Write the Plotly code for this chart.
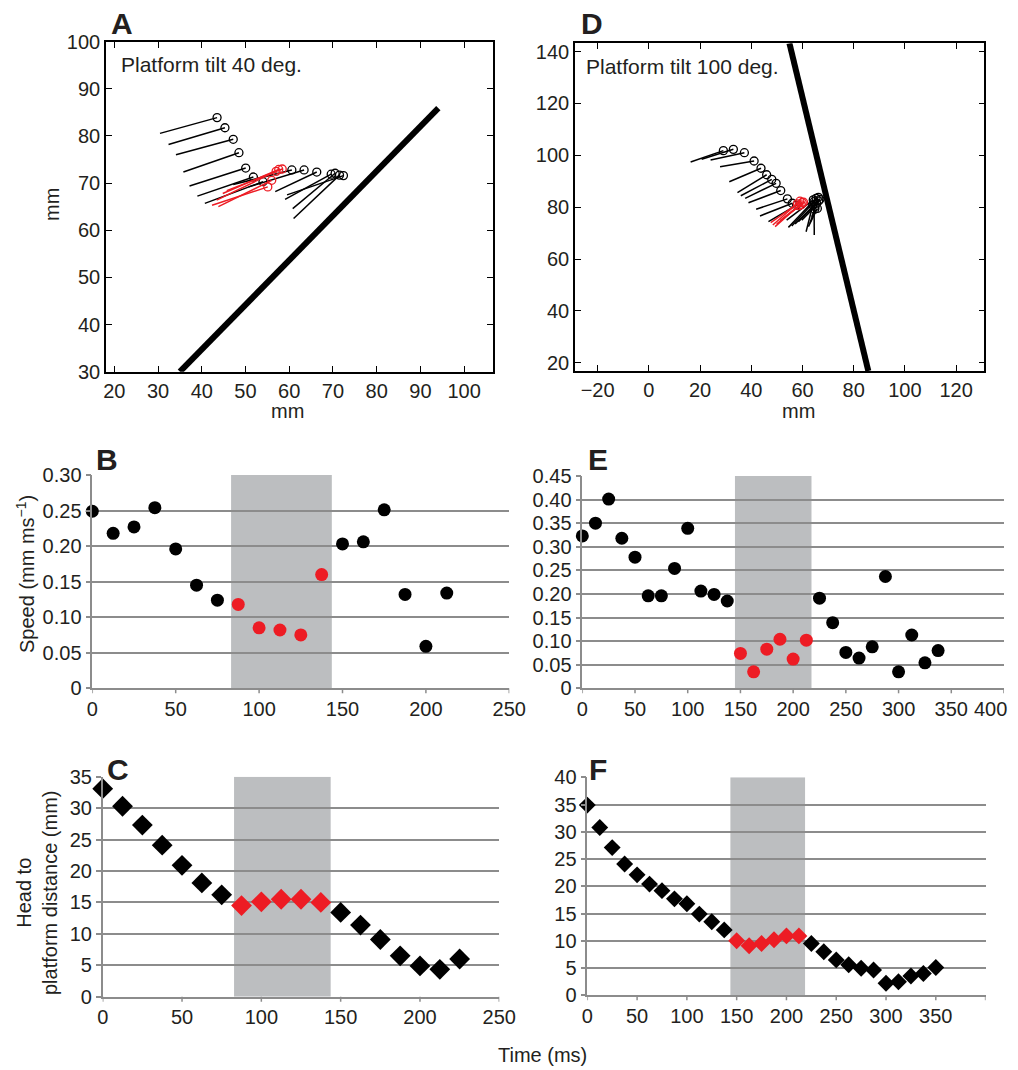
import plotly.graph_objects as go

W, H = 1018, 1070
FONT = "Liberation Sans, Arial, Helvetica, sans-serif"
BLACK = "#000000"
TXT = "#231f20"
RED = "#ed1c24"
SHADE = "#bcbec0"
GRID = "#8c8c8c"

# ---------------- Panel A (tilt 40 deg) ----------------
a_pre_head_x = [43.5, 45.3, 47.2, 48.5, 50.05, 51.8, 54.0]
a_pre_head_y = [83.9, 81.75, 79.3, 76.45, 73.2, 71.3, 70.3]
a_pre_tail_x = [30.45, 32.4, 34.1, 35.8, 37.2, 39.0, 40.7]
a_pre_tail_y = [80.55, 78.2, 76.0, 72.35, 69.4, 67.25, 65.7]
a_red_head_x = [55.1, 56.0, 57.0, 57.6, 58.4]
a_red_head_y = [69.2, 70.6, 72.5, 72.9, 73.0]
a_red_tail_x = [42.35, 43.8, 43.4, 44.8, 45.7]
a_red_tail_y = [65.3, 65.0, 66.4, 67.8, 68.4]
a_post_head_x = [60.6, 63.4, 66.3, 69.6, 70.5, 71.5, 72.4]
a_post_head_y = [72.8, 72.8, 72.35, 71.9, 72.1, 71.7, 71.6]
a_post_tail_x = [47.2, 50.7, 56.8, 59.05, 60.8, 61.0, 59.5]
a_post_tail_y = [69.7, 69.2, 68.2, 66.55, 64.6, 62.5, 67.5]
a_platform_x = [35.0, 94.1]
a_platform_y = [30.0, 85.9]

# ---------------- Panel D (tilt 100 deg) ----------------
d_pre_head_x = [29.1, 33.0, 37.3, 41.1, 43.8, 46.0, 48.0, 49.7, 51.5, 54.1, 56.0, 57.7]
d_pre_head_y = [101.8, 102.3, 101.0, 97.8, 95.0, 92.5, 90.7, 89.2, 86.4, 83.2, 81.5, 80.8]
d_pre_tail_x = [16.3, 20.6, 24.1, 27.8, 31.4, 34.6, 35.9, 37.6, 38.9, 41.9, 43.4, 46.7]
d_pre_tail_y = [97.4, 98.5, 98.2, 95.6, 89.8, 85.6, 84.4, 83.4, 81.7, 79.2, 76.6, 74.4]
d_red_head_x = [58.0, 59.0, 59.9, 58.6, 59.5, 60.4]
d_red_head_y = [81.3, 82.3, 81.8, 80.6, 80.9, 81.9]
d_red_tail_x = [47.6, 48.4, 49.3, 49.9, 51.2, 52.5]
d_red_tail_y = [74.0, 73.1, 72.5, 73.5, 74.8, 75.7]
d_post_head_x = [64.2, 65.3, 66.2, 66.8, 65.5, 64.9, 64.0, 65.8, 64.8, 64.5, 66.3]
d_post_head_y = [82.8, 83.4, 83.8, 83.0, 81.5, 80.2, 80.8, 79.5, 79.2, 82.1, 82.4]
d_post_tail_x = [53.8, 54.5, 55.8, 57.1, 58.4, 59.7, 61.4, 62.3, 62.9, 64.6, 63.6]
d_post_tail_y = [75.0, 72.2, 72.7, 73.5, 74.4, 75.0, 70.5, 72.5, 73.8, 69.3, 76.3]
d_platform_x = [54.9, 85.7]
d_platform_y = [143.2, 16.8]

# ---------------- Panel B (speed, tilt 40) ----------------
b_time_black1 = [0, 12.5, 25, 37.5, 50, 62.5, 75]
b_speed_black1 = [0.249, 0.218, 0.227, 0.254, 0.196, 0.145, 0.124]
b_time_red = [87.5, 100, 112.5, 125, 137.5]
b_speed_red = [0.118, 0.085, 0.082, 0.075, 0.160]
b_time_black2 = [150, 162.5, 175, 187.5, 200, 212.5]
b_speed_black2 = [0.203, 0.206, 0.251, 0.132, 0.059, 0.134]
b_shade = [83.2, 143.6]

# ---------------- Panel C (distance, tilt 40) ----------------
c_time_black1 = [0, 12.5, 25, 37.5, 50, 62.5, 75]
c_dist_black1 = [33.1, 30.3, 27.3, 24.1, 20.9, 18.1, 16.2]
c_time_red = [87.5, 100, 112.5, 125, 137.5]
c_dist_red = [14.5, 15.1, 15.5, 15.5, 15.0]
c_time_black2 = [150, 162.5, 175, 187.5, 200, 212.5, 225]
c_dist_black2 = [13.4, 11.4, 9.1, 6.5, 4.9, 4.35, 6.0]
c_shade = [82.8, 143.7]

# ---------------- Panel E (speed, tilt 100) ----------------
e_time_black1 = [0, 12.5, 25, 37.5, 50, 62.5, 75, 87.5, 100, 112.5, 125, 137.5]
e_speed_black1 = [0.323, 0.350, 0.401, 0.318, 0.278, 0.196, 0.196, 0.254, 0.339, 0.206, 0.199, 0.185]
e_time_red = [150, 162.5, 175, 187.5, 200, 212.5]
e_speed_red = [0.074, 0.035, 0.083, 0.104, 0.062, 0.102]
e_time_black2 = [225, 237.5, 250, 262.5, 275, 287.5, 300, 312.5, 325, 337.5]
e_speed_black2 = [0.191, 0.139, 0.076, 0.064, 0.088, 0.237, 0.035, 0.113, 0.054, 0.080]
e_shade = [144.8, 217.4]

# ---------------- Panel F (distance, tilt 100) ----------------
f_time_black1 = [0, 12.5, 25, 37.5, 50, 62.5, 75, 87.5, 100, 112.5, 125, 137.5]
f_dist_black1 = [34.9, 30.8, 27.1, 24.1, 22.1, 20.4, 19.2, 17.7, 16.8, 14.9, 13.5, 12.0]
f_time_red = [150, 162.5, 175, 187.5, 200, 212.5]
f_dist_red = [10.0, 9.1, 9.5, 10.2, 10.9, 10.9]
f_time_black2 = [225, 237.5, 250, 262.5, 275, 287.5, 300, 312.5, 325, 337.5, 350]
f_dist_black2 = [9.5, 8.0, 6.5, 5.6, 4.95, 4.65, 2.2, 2.5, 3.55, 4.0, 5.1]
f_shade = [143.7, 218.7]

# tick values / labels
a_xticks = [20, 30, 40, 50, 60, 70, 80, 90, 100]
a_yticks = [30, 40, 50, 60, 70, 80, 90, 100]
d_xticks = [-20, 0, 20, 40, 60, 80, 100, 120]
d_yticks = [20, 40, 60, 80, 100, 120, 140]
b_yticks = [0, 0.05, 0.10, 0.15, 0.20, 0.25, 0.30]
b_ytext = ["0", "0.05", "0.10", "0.15", "0.20", "0.25", "0.30"]
e_yticks = [0, 0.05, 0.10, 0.15, 0.20, 0.25, 0.30, 0.35, 0.40, 0.45]
e_ytext = ["0", "0.05", "0.10", "0.15", "0.20", "0.25", "0.30", "0.35", "0.40", "0.45"]
bc_xticks = [0, 50, 100, 150, 200, 250]
ef_xticks = [0, 50, 100, 150, 200, 250, 300, 350, 400]
ef_xlabeled = [0, 50, 100, 150, 200, 250, 300, 350]
e_last_label = "400"
c_yticks = [0, 5, 10, 15, 20, 25, 30, 35]
f_yticks = [0, 5, 10, 15, 20, 25, 30, 35, 40]


def segs(tx, ty, hx, hy):
    xs, ys = [], []
    for a, b, c, d in zip(tx, ty, hx, hy):
        xs += [a, c, None]
        ys += [b, d, None]
    return xs, ys


fig = go.Figure()


def add_sticks(xa, ya, tx, ty, hx, hy, color):
    sx, sy = segs(tx, ty, hx, hy)
    fig.add_trace(go.Scatter(x=sx, y=sy, mode="lines", xaxis=xa, yaxis=ya,
                             line=dict(color=color, width=1.5), hoverinfo="skip",
                             showlegend=False))
    fig.add_trace(go.Scatter(x=hx, y=hy, mode="markers", xaxis=xa, yaxis=ya,
                             marker=dict(symbol="circle-open", size=8, color=color,
                                         line=dict(width=1.3, color=color)),
                             showlegend=False))


# Panel A
fig.add_trace(go.Scatter(x=a_platform_x, y=a_platform_y, mode="lines", xaxis="x", yaxis="y",
                         line=dict(color=BLACK, width=6), showlegend=False))
add_sticks("x", "y", a_pre_tail_x, a_pre_tail_y, a_pre_head_x, a_pre_head_y, BLACK)
add_sticks("x", "y", a_post_tail_x, a_post_tail_y, a_post_head_x, a_post_head_y, BLACK)
add_sticks("x", "y", a_red_tail_x, a_red_tail_y, a_red_head_x, a_red_head_y, RED)

# Panel D
fig.add_trace(go.Scatter(x=d_platform_x, y=d_platform_y, mode="lines", xaxis="x2", yaxis="y2",
                         line=dict(color=BLACK, width=6), showlegend=False))
add_sticks("x2", "y2", d_pre_tail_x, d_pre_tail_y, d_pre_head_x, d_pre_head_y, BLACK)
add_sticks("x2", "y2", d_post_tail_x, d_post_tail_y, d_post_head_x, d_post_head_y, BLACK)
add_sticks("x2", "y2", d_red_tail_x, d_red_tail_y, d_red_head_x, d_red_head_y, RED)


def add_pts(xa, ya, x, y, color, symbol, size):
    fig.add_trace(go.Scatter(x=x, y=y, mode="markers", xaxis=xa, yaxis=ya, cliponaxis=False,
                             marker=dict(symbol=symbol, size=size, color=color, line=dict(width=0)),
                             showlegend=False))


add_pts("x3", "y3", b_time_black1, b_speed_black1, BLACK, "circle", 13)
add_pts("x3", "y3", b_time_red, b_speed_red, RED, "circle", 13)
add_pts("x3", "y3", b_time_black2, b_speed_black2, BLACK, "circle", 13)

add_pts("x4", "y4", e_time_black1, e_speed_black1, BLACK, "circle", 13)
add_pts("x4", "y4", e_time_red, e_speed_red, RED, "circle", 13)
add_pts("x4", "y4", e_time_black2, e_speed_black2, BLACK, "circle", 13)

add_pts("x5", "y5", c_time_black1, c_dist_black1, BLACK, "diamond", 16)
add_pts("x5", "y5", c_time_red, c_dist_red, RED, "diamond", 16)
add_pts("x5", "y5", c_time_black2, c_dist_black2, BLACK, "diamond", 16)

add_pts("x6", "y6", f_time_black1, f_dist_black1, BLACK, "diamond", 13)
add_pts("x6", "y6", f_time_red, f_dist_red, RED, "diamond", 13)
add_pts("x6", "y6", f_time_black2, f_dist_black2, BLACK, "diamond", 13)

# shaded windows
for xr, yr, sh, top in [("x3", "y3", b_shade, 0.30), ("x4", "y4", e_shade, 0.45),
                        ("x5", "y5", c_shade, 35), ("x6", "y6", f_shade, 40)]:
    fig.add_shape(type="rect", xref=xr, yref=yr, x0=sh[0], x1=sh[1], y0=0, y1=top,
                  fillcolor=SHADE, line=dict(width=0), layer="below")

# Excel-style time-axis tick marks (hanging below the axis line)
for xr, yr, vals, hpx in [("x3", "y3", bc_xticks, 213.3), ("x4", "y4", ef_xticks, 212.3),
                          ("x5", "y5", bc_xticks, 220.0), ("x6", "y6", ef_xticks, 218.0)]:
    for v in vals:
        fig.add_shape(type="line", xref=xr, yref=yr + " domain", x0=v, x1=v, y0=0,
                      y1=-5.0 / hpx, line=dict(color=GRID, width=1.5))


def dx(p0, p1):
    return [p0 / W, p1 / W]


def dy(top, bottom):
    return [1 - bottom / H, 1 - top / H]


tickfont = dict(family=FONT, size=20, color=TXT)

matlab_x = dict(showline=True, linecolor=BLACK, linewidth=1.6, mirror="ticks", ticks="inside",
                ticklen=6, tickcolor=BLACK, tickwidth=1, showgrid=False, zeroline=False,
                tickfont=tickfont, automargin=False)
matlab_y = dict(matlab_x)

excel_x = dict(showline=True, linecolor=GRID, linewidth=1.5, ticks="", showgrid=False,
               zeroline=False, tickfont=tickfont, automargin=False, ticklabelstandoff=2)
excel_y = dict(showline=True, linecolor=GRID, linewidth=1.5, ticks="outside", ticklen=5,
               tickcolor=GRID, tickwidth=1.5, showgrid=True, gridcolor=GRID, gridwidth=1.5,
               zeroline=False, tickfont=tickfont, automargin=False)

fig.update_layout(
    width=W, height=H, margin=dict(l=0, r=0, t=0, b=0, autoexpand=False),
    paper_bgcolor="white", plot_bgcolor="rgba(0,0,0,0)",
    font=dict(family=FONT, size=20, color=TXT),
    xaxis=dict(matlab_x, domain=dx(106, 493), range=[18.1, 106.6], tickvals=a_xticks, anchor="y"),
    yaxis=dict(matlab_y, domain=dy(41.7, 371.7), range=[30, 100], tickvals=a_yticks, anchor="x"),
    xaxis2=dict(matlab_x, domain=dx(575, 984.3), range=[-28.85, 131.0], tickvals=d_xticks,
                anchor="y2"),
    yaxis2=dict(matlab_y, domain=dy(43.3, 371), range=[16.8, 143.2], tickvals=d_yticks,
                anchor="x2"),
    xaxis3=dict(excel_x, domain=dx(92.3, 509.3), range=[0, 250], tickvals=bc_xticks, anchor="y3"),
    yaxis3=dict(excel_y, domain=dy(475, 688.3), range=[0, 0.30], tickvals=b_yticks,
                ticktext=b_ytext, anchor="x3"),
    xaxis4=dict(excel_x, domain=dx(582.3, 1004), range=[0, 400], tickvals=ef_xlabeled,
                anchor="y4"),
    yaxis4=dict(excel_y, domain=dy(476, 688.3), range=[0, 0.45], tickvals=e_yticks,
                ticktext=e_ytext, anchor="x4"),
    xaxis5=dict(excel_x, domain=dx(102.7, 499.3), range=[0, 250], tickvals=bc_xticks, anchor="y5"),
    yaxis5=dict(excel_y, domain=dy(776.7, 996.7), range=[0, 35], tickvals=c_yticks, anchor="x5"),
    xaxis6=dict(excel_x, domain=dx(587.3, 985.6), range=[0, 400], tickvals=ef_xlabeled,
                anchor="y6"),
    yaxis6=dict(excel_y, domain=dy(777.3, 995.3), range=[0, 40], tickvals=f_yticks, anchor="x6"),
)


def note(text, px, py, size=20, angle=0, anchor="center", bold=False):
    fig.add_annotation(text=("<b>%s</b>" % text) if bold else text, x=px / W, y=1 - py / H,
                       xref="paper", yref="paper", xanchor=anchor, yanchor="middle",
                       showarrow=False, textangle=angle,
                       font=dict(family=FONT, size=size, color=TXT))


for t, px, py in [("A", 109, 23), ("D", 579, 23), ("B", 94, 459), ("E", 586, 459),
                  ("C", 105, 769), ("F", 587, 769)]:
    note(t, px, py, size=30, anchor="left", bold=True)

note("Platform tilt 40 deg.", 119, 65, size=21, anchor="left")
note("Platform tilt 100 deg.", 584, 67, size=21, anchor="left")
note("mm", 52, 205, angle=-90)
note("mm", 287, 411)
note("mm", 798, 411)
note("Speed (mm ms<sup>−1</sup>)", 25, 574, angle=-90)
note("Head to<br>platform distance (mm)", 37, 893, angle=-90)
note("Time (ms)", 542, 1055)
# the last E time label sits pulled inside the figure edge, as in the original
note(e_last_label, 990, 709)

fig.write_html(
    "out.html",
    config={"displayModeBar": False},
    post_script="document.body.style.margin='0';document.body.style.overflow='hidden';",
)
